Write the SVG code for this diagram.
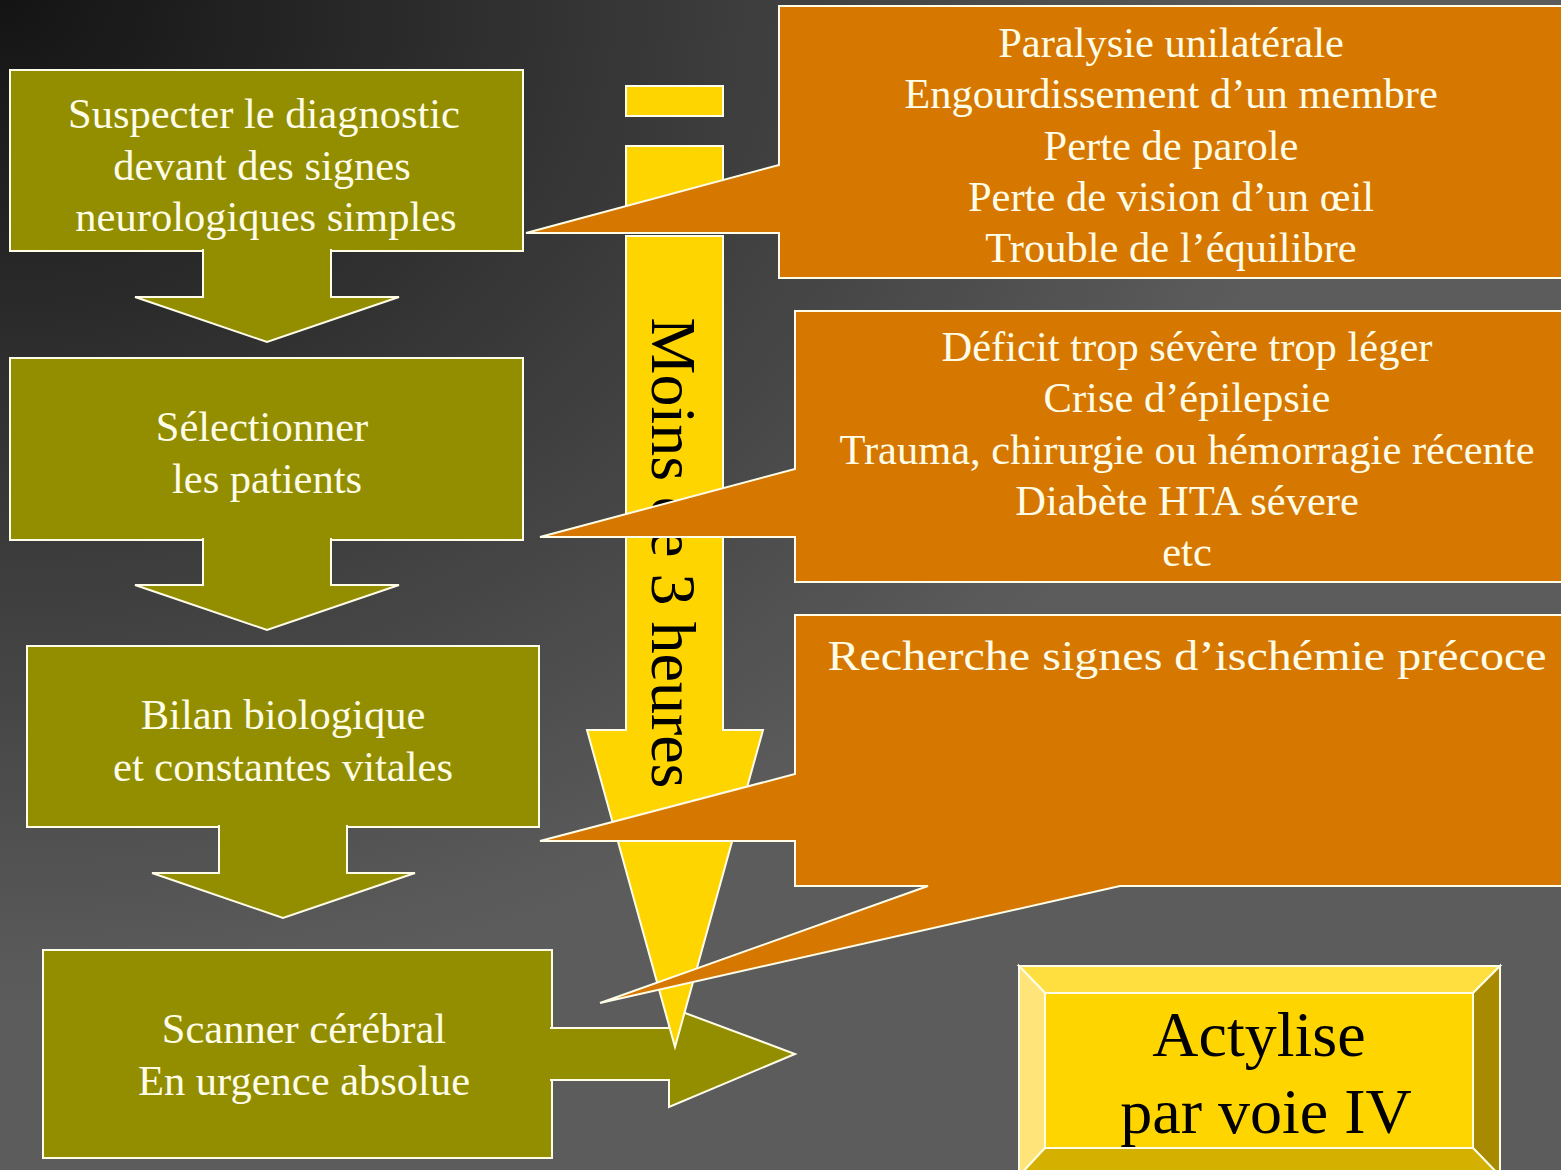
<svg xmlns="http://www.w3.org/2000/svg" width="1561" height="1170" viewBox="0 0 1561 1170">
<defs>
<radialGradient id="bg" gradientUnits="userSpaceOnUse" cx="0" cy="0" r="1300" gradientTransform="scale(1,0.77)">
<stop offset="0" stop-color="#141414"/>
<stop offset="1" stop-color="#5c5c5c"/>
</radialGradient>
<style>
.g{fill:#938e00;stroke:#fffde8;stroke-width:2}
.o{fill:#d67800;stroke:#fffde8;stroke-width:2}
.y{fill:#ffd500;stroke:#fffde8;stroke-width:2}
.t{font-family:"Liberation Serif","Times New Roman",serif;font-size:42.5px;fill:#fffde8;text-anchor:middle}
.k{font-family:"Liberation Serif","Times New Roman",serif;fill:#000;text-anchor:middle}
.bv{stroke:#fffde8;stroke-width:2;stroke-linejoin:miter}
</style>
</defs>
<rect x="0" y="0" width="1561" height="1170" fill="url(#bg)"/>

<g id="box1">
<rect class="g" x="10" y="70" width="513" height="181"/>
<text class="t" x="264" y="128">Suspecter le diagnostic</text>
<text class="t" x="262" y="180">devant des signes</text>
<text class="t" x="266" y="231">neurologiques simples</text>
</g>
<g id="box2">
<rect class="g" x="10" y="358" width="513" height="182"/>
<text class="t" x="262" y="441">Sélectionner</text>
<text class="t" x="267" y="493">les patients</text>
</g>
<g id="box3">
<rect class="g" x="27" y="646" width="512" height="181"/>
<text class="t" x="283" y="729">Bilan biologique</text>
<text class="t" x="283" y="781">et constantes vitales</text>
</g>
<g id="box4">
<rect class="g" x="43" y="950" width="509" height="208"/>
<text class="t" x="304" y="1043">Scanner cérébral</text>
<text class="t" x="304" y="1095">En urgence absolue</text>
</g>

<g id="connectors">
<path class="g" d="M203,249 V297 H135 L267,342 L399,297 H331 V249"/>
<path class="g" d="M203,538 V585 H135 L267,630 L399,585 H331 V538"/>
<path class="g" d="M219,825 V873 H152 L283,918 L415,873 H347 V825"/>
<path class="g" d="M550,1028 H669 V1007 L795,1054 L669,1107 V1080 H550"/>
</g>

<g id="timeline">
<rect class="y" x="626" y="86" width="97" height="30"/>
<rect class="y" x="626" y="146" width="97" height="80"/>
<path class="y" d="M626,236 H723 V730 H763 L675,1047 L587,730 H626 Z"/>
<text class="k" font-size="64" transform="translate(652,553) rotate(90)">Moins de 3 heures</text>
</g>

<g id="callout1">
<path class="o" d="M779,6 H1565 V278 H779 V233 H526 L779,165 Z"/>
<text class="t" x="1171" y="57">Paralysie unilatérale</text>
<text class="t" x="1171" y="108">Engourdissement d’un membre</text>
<text class="t" x="1171" y="160">Perte de parole</text>
<text class="t" x="1171" y="211">Perte de vision d’un œil</text>
<text class="t" x="1171" y="262">Trouble de l’équilibre</text>
</g>

<g id="callout2">
<path class="o" d="M795,311 H1565 V582 H795 V537 H540 L795,469 Z"/>
<text class="t" x="1187" y="361">Déficit trop sévère trop léger</text>
<text class="t" x="1187" y="412">Crise d’épilepsie</text>
<text class="t" x="1187" y="464">Trauma, chirurgie ou hémorragie récente</text>
<text class="t" x="1187" y="515">Diabète HTA sévere</text>
<text class="t" x="1187" y="566">etc</text>
</g>

<g id="callout3">
<path class="o" d="M795,615 H1565 V886 H1120 L600,1003 L928,886 H795 V841 H540 L795,774 Z"/>
<text class="t" font-size="45" transform="translate(1187,670) scale(1.131,1)">Recherche signes d’ischémie précoce</text>
</g>

<g id="actylise">
<rect x="1019" y="966" width="481" height="210" fill="#ffd500" stroke="#fffde8" stroke-width="2"/>
<path class="bv" fill="#ffdf40" d="M1019,966 H1500 L1473,993 H1045 Z"/>
<path class="bv" fill="#ffe47a" d="M1019,966 L1045,993 V1148 L1019,1176 Z"/>
<path class="bv" fill="#a88a00" d="M1500,966 V1176 L1473,1148 V993 Z"/>
<path class="bv" fill="#d4b000" d="M1045,1148 H1473 L1500,1176 H1019 Z"/>
<rect x="1045" y="993" width="428" height="155" fill="#ffd500" stroke="#fffde8" stroke-width="2"/>
<text class="k" font-size="64" x="1259" y="1056">Actylise</text>
<text class="k" font-size="64" x="1266" y="1133">par voie IV</text>
</g>
</svg>
